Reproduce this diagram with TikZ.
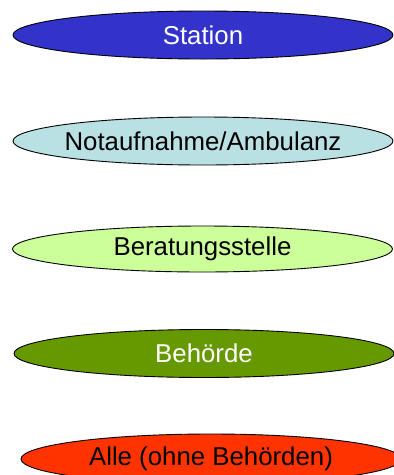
\documentclass[tikz,border=0pt]{standalone}
\usepackage{fontspec}
\setmainfont{Liberation Sans}
\usetikzlibrary{shapes.geometric}
\definecolor{stationblue}{HTML}{3333CC}
\definecolor{notcyan}{HTML}{B9E0E3}
\definecolor{beratgreen}{HTML}{CCFF99}
\definecolor{behoerdegreen}{HTML}{669900}
\definecolor{allered}{HTML}{FF3300}
\tikzset{
  oval/.style={ellipse, draw=black, line width=0.9pt, minimum width=380pt, minimum height=48pt,
    inner xsep=-80pt, inner ysep=0pt, font=\fontsize{25.8}{30}\selectfont}
}
\begin{document}
\begin{tikzpicture}[x=1pt,y=-1pt]
\useasboundingbox (0,0) rectangle (394,475);
\clip (0,0) rectangle (394,475);
\fill[white] (0,0) rectangle (394,475);
\node[oval, fill=stationblue, text=white] (station) at (203,35) {Station};
\node[oval, fill=notcyan, text=black] (notauf) at (203,141) {Notaufnahme/Ambulanz};
\node[oval, fill=beratgreen, text=black, minimum height=46pt] (berat) at (202.5,249) {Beratungsstelle};
\node[oval, fill=behoerdegreen, text=white] (behoerde) at (204,353.5) {Behörde};
\node[oval, fill=allered, text=black, minimum height=50pt] (alle) at (211,459) {Alle (ohne Behörden)};
\end{tikzpicture}
\end{document}
